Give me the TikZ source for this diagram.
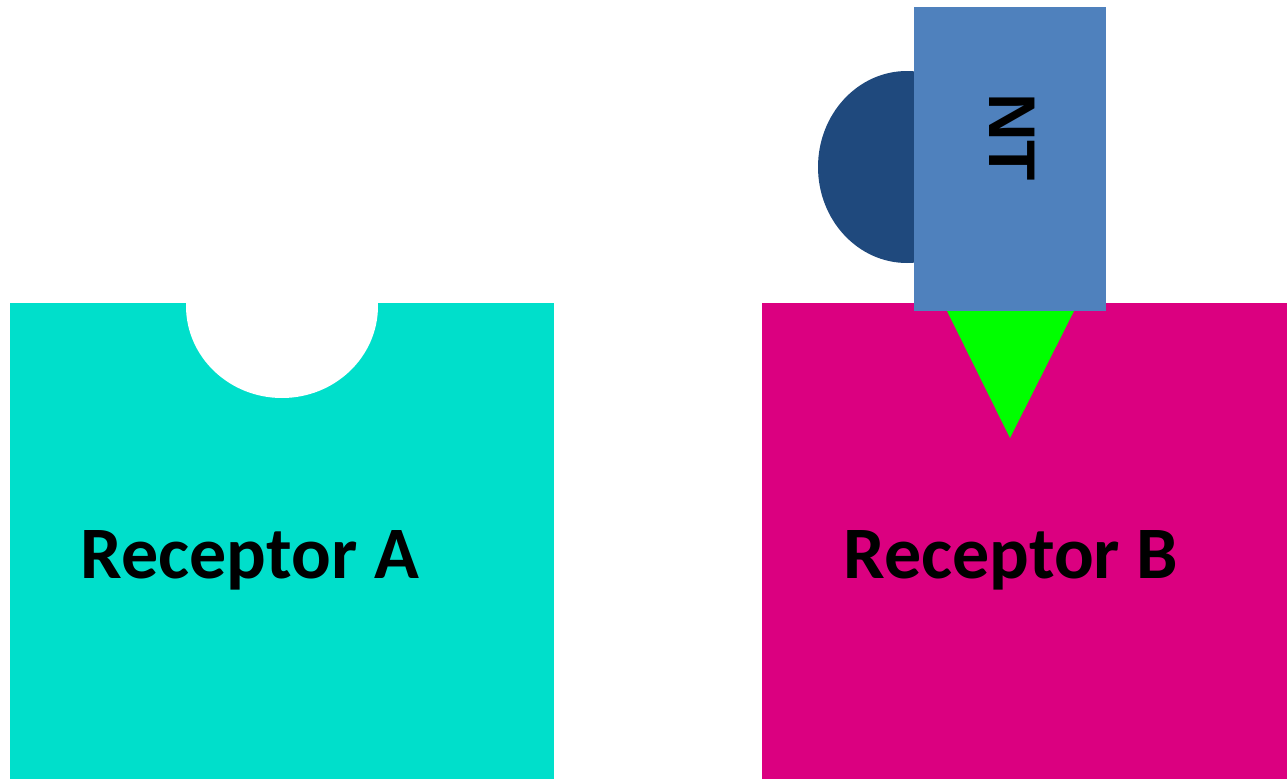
\documentclass[tikz,border=0pt]{standalone}
\usepackage{fontspec}
\setmainfont{Carlito}
\newfontfamily\ntfont{Liberation Sans}
\definecolor{teal1}{HTML}{00DFCB}
\definecolor{mag1}{HTML}{DB0080}
\definecolor{lime1}{HTML}{00FF00}
\definecolor{dblue}{HTML}{1F497D}
\definecolor{lblue}{HTML}{4F81BD}
\tikzset{
  lbl/.style={font=\fontsize{74}{80}\selectfont\bfseries, text=black, inner sep=0pt, anchor=base},
}
\begin{document}
\begin{tikzpicture}[x=1pt,y=-1pt]
\useasboundingbox (0,0) rectangle (1287,779);
% Receptor A
\fill[teal1] (10,303) rectangle (554,779);
\fill[white] (282,306) ellipse [x radius=96, y radius=92];
\fill[white] (150,200) rectangle (420,303);
% Receptor B
\fill[mag1] (762,303) rectangle (1287,779);
% ligand
\fill[dblue] (907,167) ellipse [x radius=89, y radius=96];
\fill[lime1] (947,311) -- (1074,311) -- (1010,438) -- cycle;
\fill[lblue] (914,7) rectangle (1106,311);
\node[font=\ntfont\fontsize{66}{70}\selectfont\bfseries, rotate=-90, inner sep=0pt] (nt) at (1012,137) {NT};
\node[lbl] (ra) at (250,578) {Receptor A};
\node[lbl] (rb) at (1011,578) {Receptor B};
\end{tikzpicture}
\end{document}
